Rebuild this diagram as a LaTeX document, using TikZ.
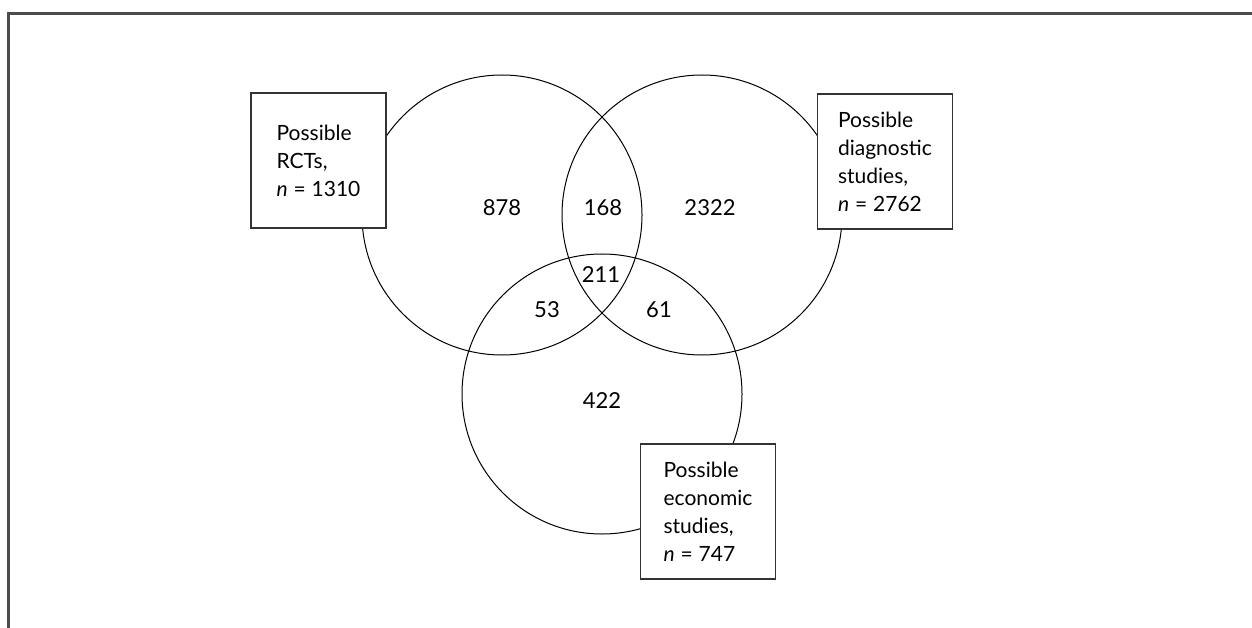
\documentclass[tikz,border=0pt]{standalone}
\usepackage{fontspec}
\setmainfont{Lato}
\newcommand{\eqsign}{\hspace{0.28em}=\hspace{0.28em}}
\begin{document}
\begin{tikzpicture}[x=1pt,y=-1pt,
  venn/.style={circle,draw=black,line width=1pt,minimum size=280pt,inner sep=0pt},
  labelbox/.style={draw=black!80,line width=1.4pt,fill=white,minimum width=135pt,minimum height=135pt,align=left,inner sep=0pt,font=\fontsize{21}{28}\selectfont},
  num/.style={font=\fontsize{22}{26}\selectfont,inner sep=0pt,text=black},
  frame/.style={line width=2.2pt,draw=black!70}]
\useasboundingbox (0,0) rectangle (1252,628);
\coordinate (fb) at (8.5,628);
\coordinate (fc) at (8.5,13.5);
\coordinate (fr) at (1252,13.5);
\draw[frame] (fb) -- (fc) -- (fr);
\node[venn] (rct) at (502,215) {};
\node[venn] (diag) at (702,215) {};
\node[venn] (econ) at (602,394) {};
\node[labelbox] (brct) at (318.5,160.5) {Possible\\RCTs,\\\textit{n}\eqsign 1310};
\node[labelbox] (bdiag) at (885,161.5) {Possible\\diagnostic\\studies,\\\textit{n}\eqsign 2762};
\node[labelbox] (becon) at (708,511.5) {Possible\\economic\\studies,\\\textit{n}\eqsign 747};
\node[num] (n878) at (502,208) {878};
\node[num] (n168) at (603,208) {168};
\node[num] (n2322) at (710,208) {2322};
\node[num] (n211) at (601,275) {211};
\node[num] (n53) at (547,310) {53};
\node[num] (n61) at (659,310) {61};
\node[num] (n422) at (602,401) {422};
\end{tikzpicture}
\end{document}
